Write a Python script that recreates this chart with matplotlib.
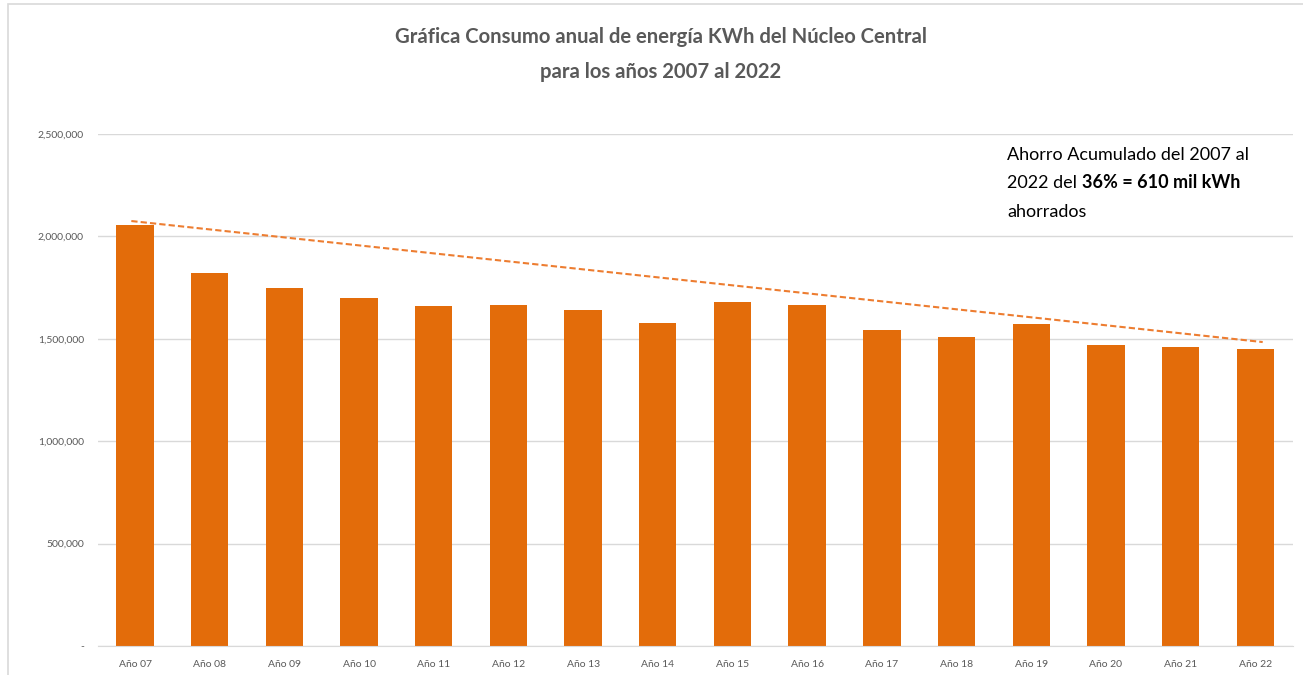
import matplotlib.pyplot as plt
import matplotlib.ticker as mticker
from matplotlib.patches import Rectangle

years = ['Año 07', 'Año 08', 'Año 09', 'Año 10', 'Año 11', 'Año 12', 'Año 13', 'Año 14',
         'Año 15', 'Año 16', 'Año 17', 'Año 18', 'Año 19', 'Año 20', 'Año 21', 'Año 22']
consumo = [2055000, 1821000, 1748000, 1699000, 1660000, 1665000, 1641000, 1577000,
           1680000, 1665000, 1543000, 1509000, 1572000, 1470000, 1460000, 1450000]
trend_x = [-0.05, 15.1]
trend_y = [2075000, 1484000]
yticks = [0, 500000, 1000000, 1500000, 2000000, 2500000]

plt.rcParams['font.family'] = ['Lato', 'DejaVu Sans']
fig = plt.figure(figsize=(13.03, 6.75), dpi=100)
ax = fig.add_axes([0.075, 0.043, 0.917, 0.7585])

x = range(len(years))
ax.bar(x, consumo, width=0.5, color='#E36C0A', zorder=2)
ax.plot(trend_x, trend_y, linestyle=(0, (3, 1.5)), color='#ED7D31', linewidth=1.5, zorder=3)

ax.set_xlim(-0.5, len(years) - 0.5)
ax.set_ylim(0, 2500000)
ax.set_yticks(yticks)
ax.yaxis.set_major_formatter(mticker.FuncFormatter(lambda v, p: '-' if v == 0 else f'{int(v):,}'))
ax.set_xticks(list(x))
ax.set_xticklabels(years)
ax.tick_params(axis='both', length=0, labelsize=7.5, colors='#595959', pad=10)
ax.grid(axis='y', color='#d9d9d9', linewidth=1, zorder=0)
for s in ['top', 'right', 'left']:
    ax.spines[s].set_visible(False)
ax.spines['bottom'].set_color('#d9d9d9')

fig.text(0.507, 0.945, 'Gráfica Consumo anual de energía KWh del Núcleo Central',
         ha='center', va='center', fontsize=14.6, fontweight='bold', color='#595959')
fig.text(0.507, 0.894, 'para los años 2007 al 2022',
         ha='center', va='center', fontsize=14.6, fontweight='bold', color='#595959')

# annotation with bold part
tx = 1007 / 1303
fig.text(tx, 1 - 155 / 675, 'Ahorro Acumulado del 2007 al', fontsize=13, va='center', color='black')
t1 = fig.text(tx, 1 - 183 / 675, '2022 del ', fontsize=13, va='center', color='black')
fig.text(tx, 1 - 212 / 675, 'ahorrados', fontsize=13, va='center', color='black')
fig.canvas.draw()
bb = t1.get_window_extent()
fig.text(bb.x1 / fig.bbox.width, 1 - 183 / 675, '36% = 610 mil kWh', fontsize=13,
         fontweight='bold', va='center', color='black')

fig.patches.append(Rectangle((8 / 1303, -0.1), 1.2, 1 - 4 / 675 + 0.1, transform=fig.transFigure,
                             fill=False, edgecolor='#d9d9d9', linewidth=1.2))

fig.savefig('out.png', dpi=100)
